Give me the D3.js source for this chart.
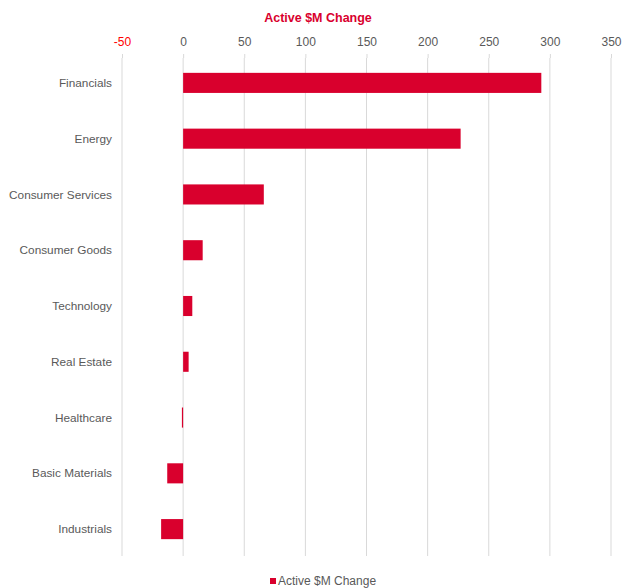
<!DOCTYPE html>
<html>
<head>
<meta charset="utf-8">
<script src="https://cdn.jsdelivr.net/npm/d3@7"></script>
<style>
  body { margin: 0; background: #fff; }
  text { font-family: "Liberation Sans", Arial, sans-serif; }
</style>
</head>
<body>
<div id="chart"></div>
<script>
const WIDTH = 625
const HEIGHT = 588

// donnees
const categories = ["Financials", "Energy", "Consumer Services", "Consumer Goods", "Technology",
    "Real Estate", "Healthcare", "Basic Materials", "Industrials"]
const values = [293, 227, 66, 16, 7.5, 4.5, -1, -13, -18]
const tickValues = [-50, 0, 50, 100, 150, 200, 250, 300, 350]
const seriesName = "Active $M Change"

const red = "#D9002D"

const svg = d3.select("#chart")
    .append("svg")
    .attr("width", WIDTH)
    .attr("height", HEIGHT)

const x = d3.scaleLinear()
    .domain([-50, 350])
    .range([122, 611])

const y = d3.scaleBand()
    .domain(categories)
    .range([55, 557])
    .paddingInner(0.64)
    .paddingOuter(0.32)

// grille verticale
svg.append("g")
    .selectAll("line")
    .data(tickValues)
    .enter()
    .append("line")
    .attr("x1", d => x(d))
    .attr("x2", d => x(d))
    .attr("y1", 58)
    .attr("y2", 556)
    .attr("stroke", "#d9d9d9")
    .attr("stroke-width", 1)

// axe du haut
const axis = svg.append("g")
    .attr("transform", "translate(0,58)")
    .call(d3.axisTop(x).tickValues(tickValues).tickSize(4).tickPadding(8).tickFormat(d => String(d)))
axis.select(".domain").remove()
axis.selectAll(".tick line").attr("stroke", "#d9d9d9")
axis.selectAll(".tick text")
    .attr("fill", d => d < 0 ? "#FF0000" : "#595959")
    .style("font-size", "12px")
    .style("font-family", "'Liberation Sans', Arial, sans-serif")

// titre
svg.append("text")
    .attr("x", 318)
    .attr("y", 22)
    .attr("text-anchor", "middle")
    .attr("fill", red)
    .style("font-size", "12.5px")
    .style("font-weight", "bold")
    .text(seriesName)

// barres
svg.append("g")
    .selectAll("rect")
    .data(values)
    .enter()
    .append("rect")
    .attr("x", d => x(Math.min(0, d)))
    .attr("y", (d, i) => y(categories[i]))
    .attr("width", d => Math.abs(x(d) - x(0)))
    .attr("height", y.bandwidth())
    .attr("fill", red)

// libelles des categories
svg.append("g")
    .selectAll("text")
    .data(categories)
    .enter()
    .append("text")
    .attr("x", 112)
    .attr("y", d => y(d) + y.bandwidth() / 2)
    .attr("dy", "0.35em")
    .attr("text-anchor", "end")
    .attr("fill", "#595959")
    .style("font-size", "11.8px")
    .text(d => d)

// legende
const legend = svg.append("g").attr("transform", "translate(270,578)")
legend.append("rect")
    .attr("width", 6)
    .attr("height", 6)
    .attr("fill", red)
legend.append("text")
    .attr("x", 8)
    .attr("y", 3)
    .attr("dy", "0.35em")
    .attr("fill", "#595959")
    .style("font-size", "12px")
    .text(seriesName)
</script>
</body>
</html>
